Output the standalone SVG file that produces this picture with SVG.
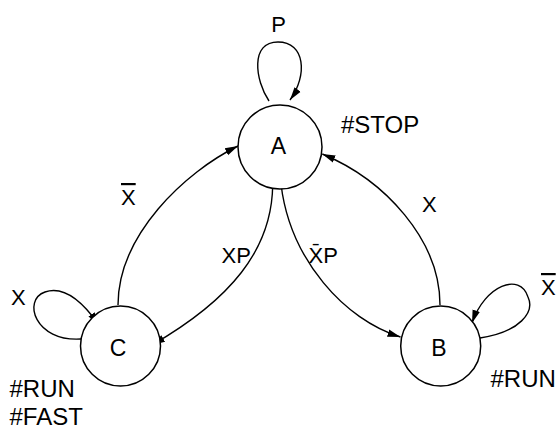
<svg xmlns="http://www.w3.org/2000/svg" width="558" height="430" viewBox="0 0 558 430">
<style>
.node{fill:#fff;stroke:#000;stroke-width:1.5}
.edge{fill:none;stroke:#000;stroke-width:1.4;marker-end:url(#arr)}
.nl{font-family:"Liberation Sans",Arial,sans-serif;font-size:23px;fill:#000;text-anchor:middle}
.an{font-family:"Liberation Sans",Arial,sans-serif;font-size:24px;fill:#000}
.el{font-family:"Liberation Sans",Arial,sans-serif;font-size:22px;fill:#000}
</style>
<defs>
<marker id="arr" markerUnits="userSpaceOnUse" markerWidth="14" markerHeight="10" viewBox="0 0 14 10" refX="13" refY="5" orient="auto">
<path d="M0,1.2 L13,5 L0,8.8 Z" fill="#000"/>
</marker>
</defs>
<rect width="558" height="430" fill="#fff"/>
<g id="connectors">
<path class="edge" d="M269,101 C255,80 250,42 278,42 C305,42 308,75 290,100"/>
<path class="edge" d="M81,339 C35,342 22,300 45,292 C65,285 85,305 99,325"/>
<path class="edge" d="M480,338 C520,332 535,312 528,297 C520,272 485,285 472,323"/>
<path class="edge" d="M118,305 C118,235 185,172 238,146"/>
<path class="edge" d="M272.7,185 C272,250 230,300 152,345"/>
<path class="edge" d="M281,184 C290,260 345,320 400.5,337"/>
<path class="edge" d="M440,305 C440,240 385,180 322.3,154"/>
<text class="el" x="278.5" y="32" text-anchor="middle">P</text>
<text class="el" x="11" y="305">X</text>
<text class="el" x="541" y="295" text-decoration="overline">X</text>
<text class="el" x="121" y="205" text-decoration="overline">X</text>
<text class="el" x="221.5" y="262.7">XP</text>
<text class="el" x="308.5" y="262.7">X̄P</text>
<text class="el" x="422" y="212.3">X</text>
</g>
<g id="nodeA">
<circle class="node" cx="280" cy="147" r="42"/>
<text class="nl" x="278.5" y="153.5">A</text>
<text class="an" x="341" y="132.7">#STOP</text>
</g>
<g id="nodeC">
<circle class="node" cx="120.5" cy="346" r="40"/>
<text class="nl" x="118" y="356">C</text>
<text class="an" x="9.5" y="397">#RUN</text>
<text class="an" x="9.5" y="425">#FAST</text>
</g>
<g id="nodeB">
<circle class="node" cx="440.7" cy="346" r="40"/>
<text class="nl" x="439" y="356">B</text>
<text class="an" x="490.5" y="386.5">#RUN</text>
</g>
</svg>
